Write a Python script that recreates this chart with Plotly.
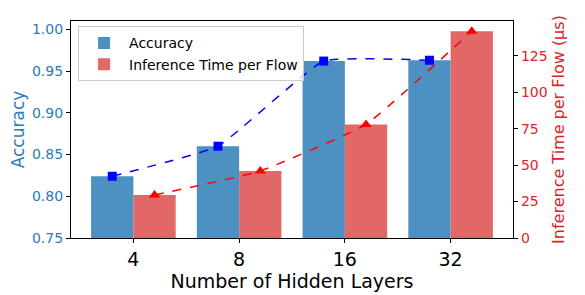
import plotly.graph_objects as go

layers = ["4", "8", "16", "32"]
accuracy = [0.824, 0.860, 0.962, 0.963]
inference_time = [29.5, 46, 78, 142]

idx = list(range(len(layers)))
x_acc = [i - 0.2 for i in idx]
x_time = [i + 0.2 for i in idx]

BAR_BLUE = "#4c91c2"
BAR_RED = "#e26868"
TXT_BLUE = "#2b7bb9"
TXT_RED = "#d62728"
FONT = "DejaVu Sans"

fig = go.Figure()
fig.add_trace(go.Bar(x=x_acc, y=accuracy, width=0.4, name="Accuracy",
                     marker=dict(color=BAR_BLUE, line=dict(width=0)), yaxis="y"))
fig.add_trace(go.Scatter(x=x_acc, y=accuracy, mode="lines+markers", showlegend=False,
                         line=dict(color="blue", dash="dash", width=1.5, shape="spline", smoothing=0.35),
                         marker=dict(symbol="square", size=9, color="blue"), yaxis="y"))
fig.add_trace(go.Bar(x=x_time, y=inference_time, width=0.4, name="Inference Time per Flow",
                     marker=dict(color=BAR_RED, line=dict(width=0)), yaxis="y2"))
fig.add_trace(go.Scatter(x=x_time, y=inference_time, mode="lines+markers", showlegend=False,
                         line=dict(color="red", dash="dash", width=1.5, shape="spline", smoothing=0.35),
                         marker=dict(symbol="triangle-up", size=10, color="red"), yaxis="y2"))

fig.update_layout(
    width=585, height=295,
    margin=dict(l=71, r=72, t=21, b=57),
    paper_bgcolor="white", plot_bgcolor="white",
    font=dict(family=FONT, size=13, color="black"),
    barmode="overlay",
    showlegend=True,
    legend=dict(x=0.016, y=0.975, xanchor="left", yanchor="top",
                bgcolor="rgba(255,255,255,0.8)", bordercolor="#cccccc", borderwidth=1,
                font=dict(family=FONT, size=14, color="black"), tracegroupgap=0,
                itemwidth=40),
    xaxis=dict(range=[-0.59, 3.59], tickvals=idx, ticktext=layers, automargin=False,
               showgrid=False, zeroline=False, showline=True, linecolor="black", linewidth=1.2,
               mirror=True, ticks="outside", ticklen=4, tickcolor="black",
               tickfont=dict(size=19, color="black"),
               title=dict(text="Number of Hidden Layers", font=dict(size=19, color="black"), standoff=0)),
    yaxis=dict(range=[0.75, 1.01], tickvals=[0.75, 0.80, 0.85, 0.90, 0.95, 1.00], tickformat=".2f",
               automargin=False,
               showgrid=False, zeroline=False, showline=True, linecolor="black", linewidth=1.2,
               ticks="outside", ticklen=4, tickcolor="black",
               tickfont=dict(size=14, color=TXT_BLUE),
               title=dict(text="Accuracy", font=dict(size=17, color=TXT_BLUE), standoff=2)),
    yaxis2=dict(range=[0, 149], tickvals=[0, 25, 50, 75, 100, 125], overlaying="y", side="right",
                automargin=False,
                showgrid=False, zeroline=False, showline=True, linecolor="black", linewidth=1.2,
                ticks="outside", ticklen=4, tickcolor="black",
                tickfont=dict(size=14, color=TXT_RED),
                title=dict(text="Inference Time per Flow (μs)", font=dict(size=16, color=TXT_RED), standoff=6)),
)

fig.write_html("out.html", config={"displayModeBar": False},
               post_script="document.body.style.margin='0px';document.body.style.padding='0px';")
